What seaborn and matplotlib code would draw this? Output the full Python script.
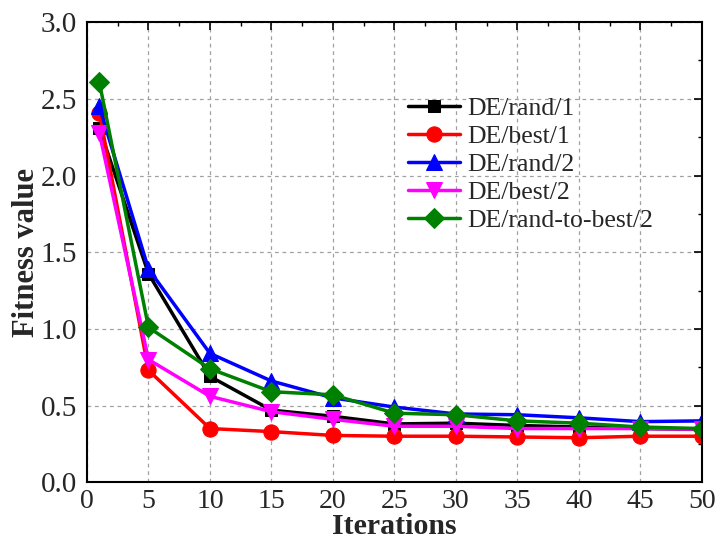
import matplotlib
matplotlib.use("Agg")
import matplotlib.pyplot as plt
import seaborn as sns
import pandas as pd
from matplotlib.ticker import MultipleLocator

iterations = [1, 5, 10, 15, 20, 25, 30, 35, 40, 45, 50]
de_rand_1 = [2.31, 1.36, 0.69, 0.47, 0.43, 0.38, 0.385, 0.37, 0.36, 0.35, 0.345]
de_best_1 = [2.41, 0.73, 0.35, 0.33, 0.305, 0.30, 0.30, 0.295, 0.29, 0.30, 0.30]
de_rand_2 = [2.45, 1.39, 0.84, 0.66, 0.55, 0.49, 0.445, 0.44, 0.42, 0.395, 0.40]
de_best_2 = [2.28, 0.80, 0.56, 0.46, 0.41, 0.365, 0.365, 0.35, 0.35, 0.35, 0.345]
de_rtb_2 = [2.61, 1.01, 0.74, 0.59, 0.57, 0.45, 0.44, 0.40, 0.385, 0.36, 0.35]

series = {
    "DE/rand/1": de_rand_1,
    "DE/best/1": de_best_1,
    "DE/rand/2": de_rand_2,
    "DE/best/2": de_best_2,
    "DE/rand-to-best/2": de_rtb_2,
}
colors = ["black", "red", "blue", "magenta", "green"]
markers = ["s", "o", "^", "v", "D"]
sizes = [9, 11, 11, 11, 10]

sns.set_style("white")
plt.rcParams["font.family"] = ["Liberation Serif", "DejaVu Serif"]
plt.rcParams["mathtext.fontset"] = "stix"

fig = plt.figure(figsize=(7.19, 5.4), dpi=100)
ax = fig.add_axes([0.121, 0.107, 0.855, 0.852])

for (name, vals), c, m, s in zip(series.items(), colors, markers, sizes):
    df = pd.DataFrame({"Iterations": iterations, "Fitness": vals})
    sns.lineplot(data=df, x="Iterations", y="Fitness", ax=ax, color=c,
                 marker=m, markersize=s, markeredgecolor=c, linewidth=2.5,
                 label=name)

ax.set_xlim(0, 50)
ax.set_ylim(0, 3.0)
ax.xaxis.set_major_locator(MultipleLocator(5))
ax.xaxis.set_minor_locator(MultipleLocator(2.5))
ax.yaxis.set_major_locator(MultipleLocator(0.5))
ax.yaxis.set_minor_locator(MultipleLocator(0.25))
ax.set_yticks([0, 0.5, 1.0, 1.5, 2.0, 2.5, 3.0])
ax.set_yticklabels(["0.0", "0.5", "1.0", "1.5", "2.0", "2.5", "3.0"])
ax.grid(True, which="major", linestyle=(0, (3, 3)), color="#a0a0a0", linewidth=0.9)
ax.tick_params(which="both", direction="in", top=True, right=True, color="black")
ax.tick_params(axis="y", labelsize=21, pad=7)
ax.tick_params(axis="x", labelsize=20, pad=5)
ax.tick_params(which="major", length=6, width=1.2)
ax.tick_params(which="minor", length=3, width=1.0)
for sp in ax.spines.values():
    sp.set_color("black")
    sp.set_linewidth(1.5)

ax.set_xlabel("Iterations", fontsize=21.5, fontweight="bold", labelpad=-1)
ax.set_ylabel("Fitness value", fontsize=22, fontweight="bold", labelpad=0)

leg = ax.legend(loc="upper left", bbox_to_anchor=(0.505, 0.86), frameon=False,
                fontsize=18.5, handlelength=2.05, handletextpad=0.25, labelspacing=0.2,
                borderaxespad=0)

fig.savefig("out.png", dpi=100)
